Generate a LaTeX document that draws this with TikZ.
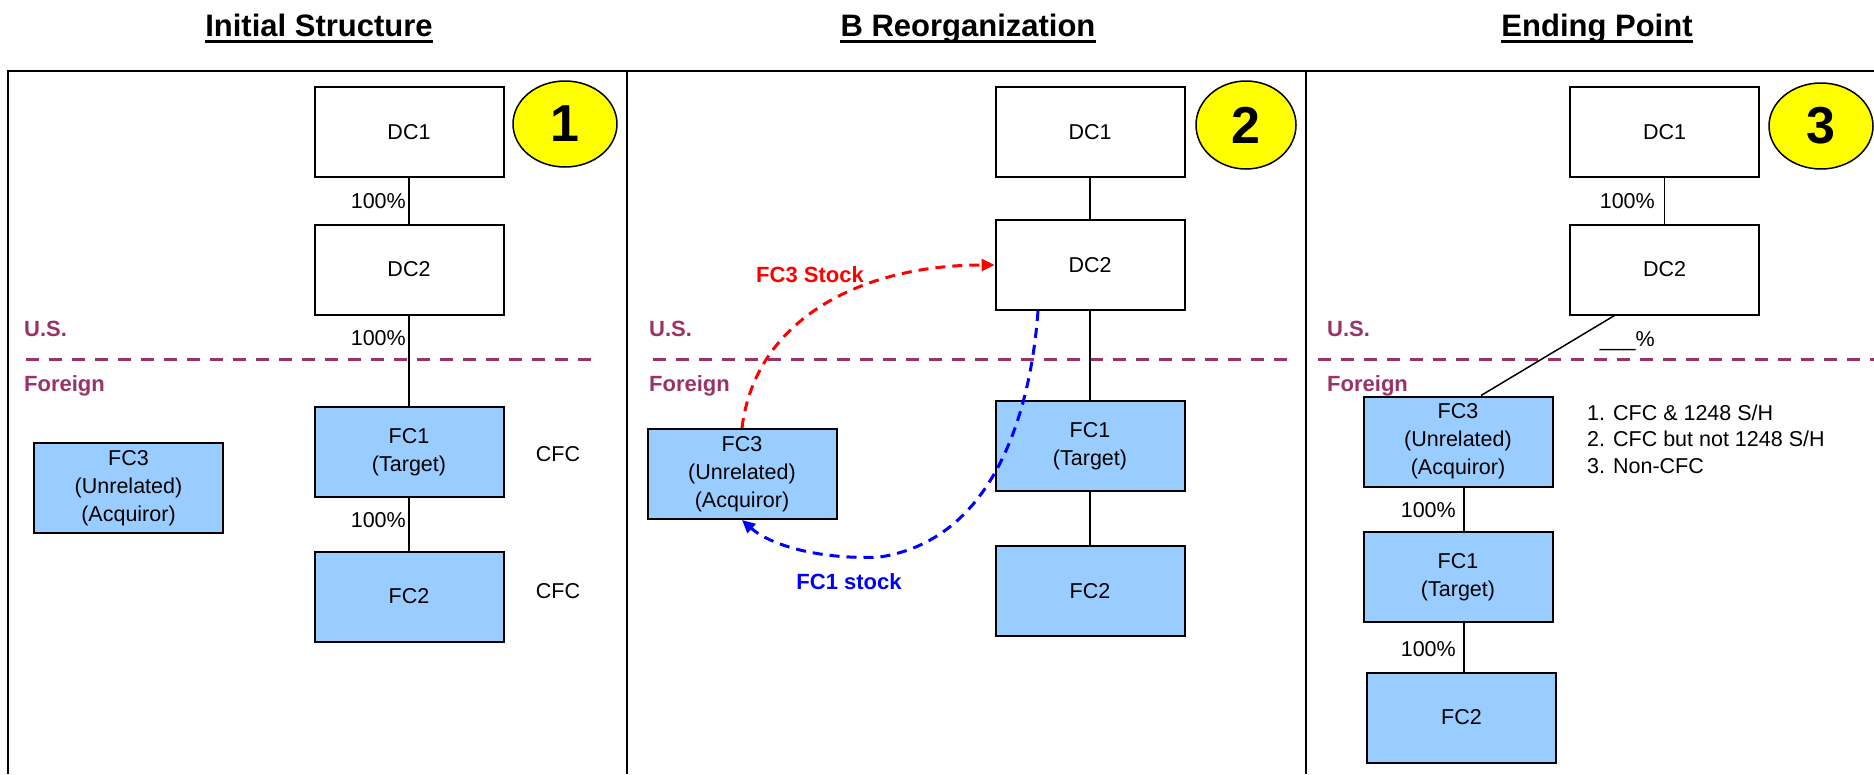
\documentclass[tikz,border=0pt]{standalone}
\usepackage{fontspec}
\setmainfont{Liberation Sans}
\usetikzlibrary{arrows.meta,shapes.geometric}
\definecolor{fcblue}{HTML}{99CCFF}
\definecolor{usmaroon}{HTML}{993366}
\definecolor{arrred}{HTML}{FF0000}
\definecolor{arrblue}{HTML}{0000FF}
\definecolor{numyellow}{HTML}{FFFF00}
\begin{document}
\begin{tikzpicture}[x=1pt,y=-1pt,
  box/.style={draw=black,line width=2pt,minimum width=189pt,minimum height=90pt,inner sep=0pt,align=center,font=\fontsize{21.5}{28}\selectfont},
  dcbox/.style={box,fill=white},
  fcbox/.style={box,fill=fcblue},
  conn/.style={draw=black,line width=1.5pt},
  pct/.style={inner sep=0pt,anchor=east,font=\fontsize{21.5}{26}\selectfont},
  note/.style={inner sep=0pt,font=\fontsize{21.5}{26}\selectfont},
  region/.style={inner sep=0pt,anchor=base west,text=usmaroon,font=\bfseries\fontsize{22}{22}\selectfont},
  border/.style={usmaroon,line width=3pt,dash pattern=on 13pt off 10pt},
  ttl/.style={inner sep=0pt,anchor=base,font=\bfseries\fontsize{31}{31}\selectfont},
  uline/.style={line width=3pt},
  numc/.style={ellipse,draw=black,line width=1.5pt,fill=numyellow,minimum width=104pt,minimum height=86pt,inner sep=0pt,font=\bfseries\fontsize{52}{52}\selectfont},
  redarrow/.style={arrred,line width=3pt,dash pattern=on 10pt off 7pt,-{Triangle[length=13pt,width=12pt]}},
  bluearrow/.style={arrblue,line width=3pt,dash pattern=on 10pt off 7pt,-{Triangle[length=13pt,width=12pt]}},
  redlbl/.style={inner sep=0pt,text=arrred,font=\bfseries\fontsize{22}{22}\selectfont},
  bluelbl/.style={inner sep=0pt,text=arrblue,font=\bfseries\fontsize{22}{22}\selectfont},
  frame/.style={line width=2pt}
]
\useasboundingbox (0,0) rectangle (1874,774);

% titles
\node[ttl] (t1) at (319,36) {Initial Structure};
\node[ttl] (t2) at (968,36) {B Reorganization};
\node[ttl] (t3) at (1597,36) {Ending Point};
\draw[uline] ([yshift=-5pt]t1.base west) -- ([yshift=-5pt]t1.base east);
\draw[uline] ([yshift=-5pt]t2.base west) -- ([yshift=-5pt]t2.base east);
\draw[uline] ([yshift=-5pt]t3.base west) -- ([yshift=-5pt]t3.base east);

% frame
\draw[frame] (8,774) -- (8,70.5) -- (1874,70.5);
\draw[frame] (627,70.5) -- (627,774);
\draw[frame] (1306,70.5) -- (1306,774);

% US / Foreign borders
\draw[border] (26,359) -- (598,359);
\draw[border] (653,359) -- (1294,359);
\draw[border] (1318,359) -- (1874,359);
\node[region] (us1) at (24,336) {U.S.};
\node[region] (fo1) at (24,391) {Foreign};
\node[region] (us2) at (649,336) {U.S.};
\node[region] (fo2) at (649,391) {Foreign};
\node[region] (us3) at (1327,336) {U.S.};
\node[region] (fo3) at (1327,391) {Foreign};

% ---------- Panel 1 ----------
\node[dcbox] (DC1a) at (409,132) {DC1};
\node[dcbox] (DC2a) at (409,269.5) {DC2};
\node[fcbox] (FC1a) at (409,452) {FC1\\(Target)};
\node[fcbox] (FC2a) at (409,596.5) {FC2};
\node[fcbox] (FC3a) at (128.5,488) {FC3\\(Unrelated)\\(Acquiror)};
\node[numc] (n1) at (565,124) {1};
\draw[conn] (DC1a.south) -- (DC2a.north);
\draw[conn] (DC2a.south) -- (FC1a.north);
\draw[conn] (FC1a.south) -- (FC2a.north);
\node[pct] (p1a) at (406,201) {100\%};
\node[pct] (p1b) at (406,338) {100\%};
\node[pct] (p1c) at (406,520) {100\%};
\node[note] (cfc1) at (558,454) {CFC};
\node[note] (cfc2) at (558,591) {CFC};

% ---------- Panel 2 ----------
\node[dcbox] (DC1b) at (1090,132) {DC1};
\node[dcbox] (DC2b) at (1090,265) {DC2};
\node[fcbox] (FC1b) at (1090,446) {FC1\\(Target)};
\node[fcbox] (FC2b) at (1090,591) {FC2};
\node[fcbox] (FC3b) at (742,474) {FC3\\(Unrelated)\\(Acquiror)};
\node[numc,minimum width=100pt,minimum height=88pt] (n2) at (1246,125) {2};
\draw[conn] (DC1b.south) -- (DC2b.north);
\draw[conn] (DC2b.south) -- (FC1b.north);
\draw[conn] (FC1b.south) -- (FC2b.north);
\draw[redarrow] (FC3b.north) .. controls (755,320) and (860,265) .. (DC2b.west);
\draw[bluearrow] ([xshift=-52pt]DC2b.south) .. controls (1030,420) and (990,540) .. (880,557) .. controls (820,560) and (770,545) .. (FC3b.south);
\node[redlbl] (lr) at (810,275) {FC3 Stock};
\node[bluelbl] (lb) at (849,582) {FC1 stock};

% ---------- Panel 3 ----------
\node[dcbox] (DC1c) at (1664.5,132) {DC1};
\node[dcbox] (DC2c) at (1664.5,269.5) {DC2};
\node[fcbox] (FC3c) at (1458,441.5) {FC3\\(Unrelated)\\(Acquiror)};
\node[fcbox] (FC1c) at (1458,577) {FC1\\(Target)};
\node[fcbox] (FC2c) at (1461.5,717.5) {FC2};
\node[numc] (n3) at (1821,126) {3};
\draw[conn] (DC1c.south) -- (DC2c.north);
\draw[conn] ([xshift=-50pt]DC2c.south) -- ([xshift=23pt]FC3c.north);
\draw[conn] ([xshift=6pt]FC3c.south) -- ([xshift=6pt]FC1c.north);
\draw[conn] ([xshift=6pt]FC1c.south) -- ([xshift=6pt]FC1c.south |- FC2c.north);
\node[pct] (p3a) at (1655,201) {100\%};
\node[pct,anchor=base east] (p3b) at (1655,346) {\_\_\_\%};
\node[pct] (p3c) at (1456,510) {100\%};
\node[pct] (p3d) at (1456,649) {100\%};
\node[note,anchor=base west] (l1) at (1587,420) {1. CFC \& 1248 S/H};
\node[note,anchor=base west] (l2) at (1587,446.5) {2. CFC but not 1248 S/H};
\node[note,anchor=base west] (l3) at (1587,473) {3. Non-CFC};
\end{tikzpicture}
\end{document}
